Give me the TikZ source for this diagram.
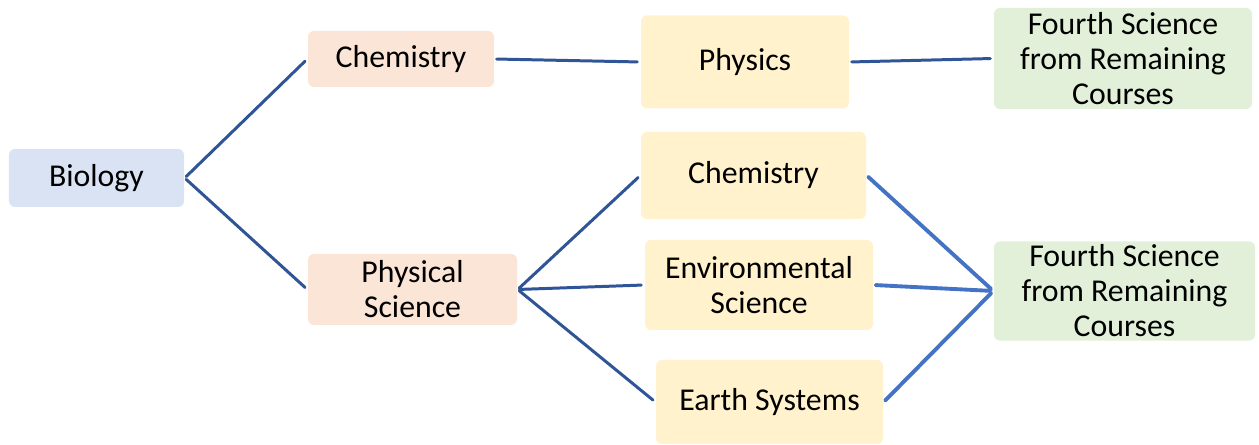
\documentclass[tikz,border=0pt]{standalone}
\usepackage{fontspec}
\setmainfont{Carlito}
\usetikzlibrary{calc}

\definecolor{blueFill}{HTML}{DAE3F3}
\definecolor{pinkFill}{HTML}{FBE5D6}
\definecolor{yellowFill}{HTML}{FFF2CC}
\definecolor{greenFill}{HTML}{E2F0D9}
\definecolor{linkDark}{HTML}{2F5597}
\definecolor{linkBlue}{HTML}{4472C4}

\begin{document}
\begin{tikzpicture}[x=1cm, y=1cm, line cap=round, line join=round]
  \tikzset{
    course/.style={inner sep=1pt, rounded corners=0.06cm, align=center,
      font=\fontsize{9.05pt}{9.95pt}\selectfont},
    link/.style={line width=0.85pt, draw=linkDark, shorten <=0.02cm, shorten >=0.03cm},
    linkR/.style={line width=1.1pt, draw=linkBlue, shorten <=0.02cm, shorten >=0.03cm}
  }
  \useasboundingbox (0, 0) rectangle (12.59, 4.45);

  % First year
  \node[course, fill=blueFill, minimum width=1.75cm, minimum height=0.58cm] (Bio) at (0.965, 2.67) {Biology};

  % Second year
  \node[course, fill=pinkFill, minimum width=1.86cm, minimum height=0.56cm] (ChemA) at (4.01, 3.86) {Chemistry};
  \node[course, fill=pinkFill, minimum width=2.09cm, minimum height=0.71cm] (PhysSci) at (4.125, 1.555) {Physical\\Science};

  % Third year
  \node[course, fill=yellowFill, minimum width=2.08cm, minimum height=0.93cm] (Phys) at (7.45, 3.83) {Physics};
  \node[course, fill=yellowFill, minimum width=2.25cm, minimum height=0.87cm] (ChemB) at (7.535, 2.695) {Chemistry};
  \node[course, fill=yellowFill, minimum width=2.28cm, minimum height=0.90cm] (EnvSci) at (7.59, 1.60) {Environmental\\Science};
  \node[course, fill=yellowFill, minimum width=2.27cm, minimum height=0.84cm] (Earth) at (7.695, 0.43) {Earth Systems};

  % Fourth year
  \node[course, fill=greenFill, minimum width=2.58cm, minimum height=1.01cm] (FourthA) at (11.23, 3.865) {Fourth Science\\from Remaining\\Courses};
  \node[course, fill=greenFill, minimum width=2.61cm, minimum height=0.92cm] (FourthB) at (11.245, 1.54) {Fourth Science\\from Remaining\\Courses};

  % Top path
  \draw[link] (Bio.east) -- (ChemA.west);
  \draw[link] (ChemA.east) -- (Phys.west);
  \draw[link] (Phys.east) -- (FourthA.west);

  % Bottom path
  \draw[link] (Bio.east) -- (PhysSci.west);
  \draw[link] (PhysSci.east) -- (ChemB.west);
  \draw[link] (PhysSci.east) -- (EnvSci.west);
  \draw[link] (PhysSci.east) -- (Earth.west);
  \draw[linkR] (ChemB.east) -- (FourthB.west);
  \draw[linkR] (EnvSci.east) -- (FourthB.west);
  \draw[linkR] (Earth.east) -- (FourthB.west);

\end{tikzpicture}
\end{document}
